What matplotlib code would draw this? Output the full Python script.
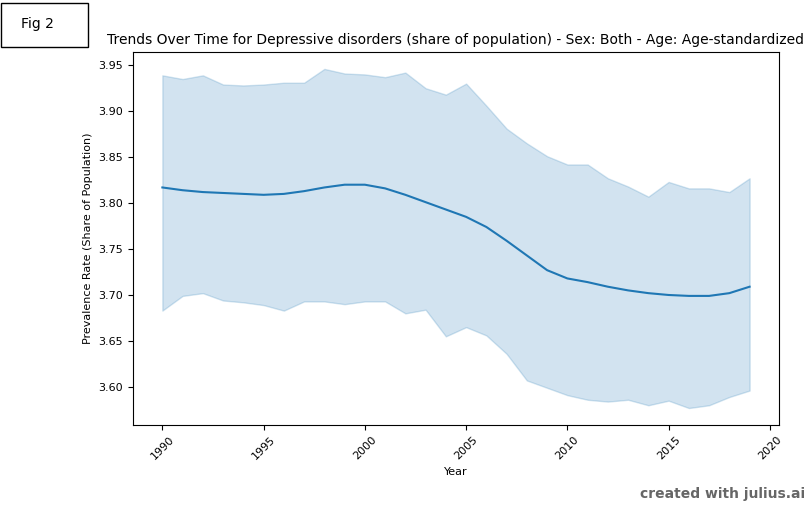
import matplotlib.pyplot as plt
from matplotlib.patches import Rectangle

years = list(range(1990, 2020))

# mean prevalence per year
mean_rate = [3.817, 3.814, 3.812, 3.811, 3.810, 3.809, 3.810, 3.813, 3.817, 3.820,
             3.820, 3.816, 3.809, 3.801, 3.793, 3.785, 3.774, 3.759, 3.743, 3.727,
             3.718, 3.714, 3.709, 3.705, 3.702, 3.700, 3.699, 3.699, 3.702, 3.709]

# confidence band
upper_rate = [3.939, 3.935, 3.939, 3.929, 3.928, 3.929, 3.931, 3.931, 3.946, 3.941,
              3.940, 3.937, 3.942, 3.925, 3.918, 3.930, 3.906, 3.881, 3.865, 3.851,
              3.842, 3.842, 3.827, 3.818, 3.807, 3.823, 3.816, 3.816, 3.812, 3.827]
lower_rate = [3.683, 3.699, 3.702, 3.694, 3.692, 3.689, 3.683, 3.693, 3.693, 3.690,
              3.693, 3.693, 3.680, 3.684, 3.655, 3.665, 3.656, 3.636, 3.607, 3.599,
              3.591, 3.586, 3.584, 3.586, 3.580, 3.585, 3.577, 3.580, 3.589, 3.596]

fig = plt.figure(figsize=(8.11, 5.17), dpi=100)
ax = fig.add_axes([0.164, 0.178, 0.7965, 0.7215])

ax.fill_between(years, lower_rate, upper_rate, color='#1f77b4', alpha=0.2)
ax.plot(years, mean_rate, color='#1f77b4', linewidth=1.5)

ax.set_title("Trends Over Time for Depressive disorders (share of population) - Sex: Both - Age: Age-standardized",
             fontsize=10)
ax.set_xlabel("Year", fontsize=8)
ax.set_ylabel("Prevalence Rate (Share of Population)", fontsize=8)
ax.set_xticks(range(1990, 2021, 5))
ax.tick_params(axis='x', labelrotation=45, labelsize=8)
ax.tick_params(axis='y', labelsize=8)
ax.yaxis.set_major_formatter(plt.FormatStrFormatter('%.2f'))

# "Fig 2" box in the corner
fig.patches.append(Rectangle((0.001, 0.909), 0.107, 0.085, transform=fig.transFigure,
                             fill=False, edgecolor='black', linewidth=1))
fig.text(0.046, 0.953, "Fig 2", fontsize=10, ha='center', va='center')

fig.text(0.993, 0.044, "created with julius.ai", fontsize=10, fontweight='bold',
         color='#666666', ha='right', va='center')

fig.savefig("out.png", dpi=100)
